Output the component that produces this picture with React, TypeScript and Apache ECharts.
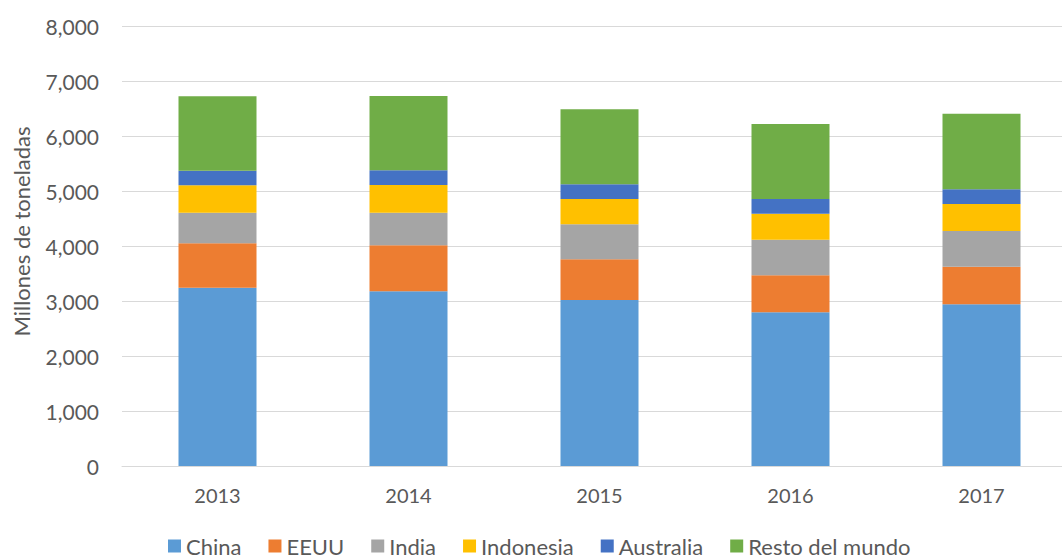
import React, { useEffect, useRef } from "react";
import * as echarts from "echarts";

const years = ["2013", "2014", "2015", "2016", "2017"];
const china = [3242, 3176, 3018, 2794, 2939];
const eeuu = [806, 836, 740, 673, 685];
const india = [558, 594, 636, 648, 649];
const indonesia = [497, 503, 461, 473, 491];
const australia = [267, 267, 266, 267, 266];
const resto = [1351, 1351, 1364, 1363, 1376];

const seriesDefs = [
  { name: "China", data: china, color: "#5B9BD5" },
  { name: "EEUU", data: eeuu, color: "#ED7D31" },
  { name: "India", data: india, color: "#A5A5A5" },
  { name: "Indonesia", data: indonesia, color: "#FFC000" },
  { name: "Australia", data: australia, color: "#4472C4" },
  { name: "Resto del mundo", data: resto, color: "#70AD47" },
];

const FONT = "Lato";

export default function App() {
  const ref = useRef<HTMLDivElement>(null);
  useEffect(() => {
    document.body.style.margin = "0";
    const chart = echarts.init(ref.current!, undefined, { renderer: "svg" });
    chart.setOption({
      animation: false,
      backgroundColor: "#ffffff",
      textStyle: { fontFamily: FONT },
      grid: { left: 122, top: 26, width: 955, bottom: 92 },
      legend: {
        top: 535,
        left: 168,
        padding: 0,
        itemWidth: 13,
        itemHeight: 13,
        itemGap: 27,
        icon: "rect",
        textStyle: { fontSize: 22, color: "#595959", fontFamily: FONT },
        data: seriesDefs.map((s) => s.name),
      },
      xAxis: {
        type: "category",
        data: years,
        axisLine: { lineStyle: { color: "#D9D9D9", width: 1 } },
        axisTick: { show: false },
        axisLabel: { fontSize: 20, color: "#595959", margin: 19, fontFamily: FONT },
      },
      yAxis: {
        type: "value",
        min: 0,
        max: 8000,
        interval: 1000,
        name: "Millones de toneladas",
        nameLocation: "middle",
        nameGap: 90,
        nameTextStyle: { fontSize: 22, color: "#595959", fontFamily: FONT, padding: [0, 0, 0, 29] },
        axisLine: { show: false },
        axisTick: { show: false },
        splitLine: { lineStyle: { color: "#D9D9D9", width: 1 } },
        axisLabel: {
          fontSize: 21,
          color: "#595959",
          margin: 23,
          fontFamily: FONT,
          formatter: (v: number) => v.toLocaleString("en-US"),
        },
      },
      series: seriesDefs.map((s) => ({
        name: s.name,
        type: "bar",
        stack: "total",
        data: s.data,
        barWidth: 78,
        itemStyle: { color: s.color },
      })),
    });
    return () => chart.dispose();
  }, []);
  return (
    <div style={{ width: 1062, height: 558, overflow: "hidden", position: "fixed", left: 0, top: 0 }}>
      <div ref={ref} style={{ width: 1080, height: 558 }} />
    </div>
  );
}
